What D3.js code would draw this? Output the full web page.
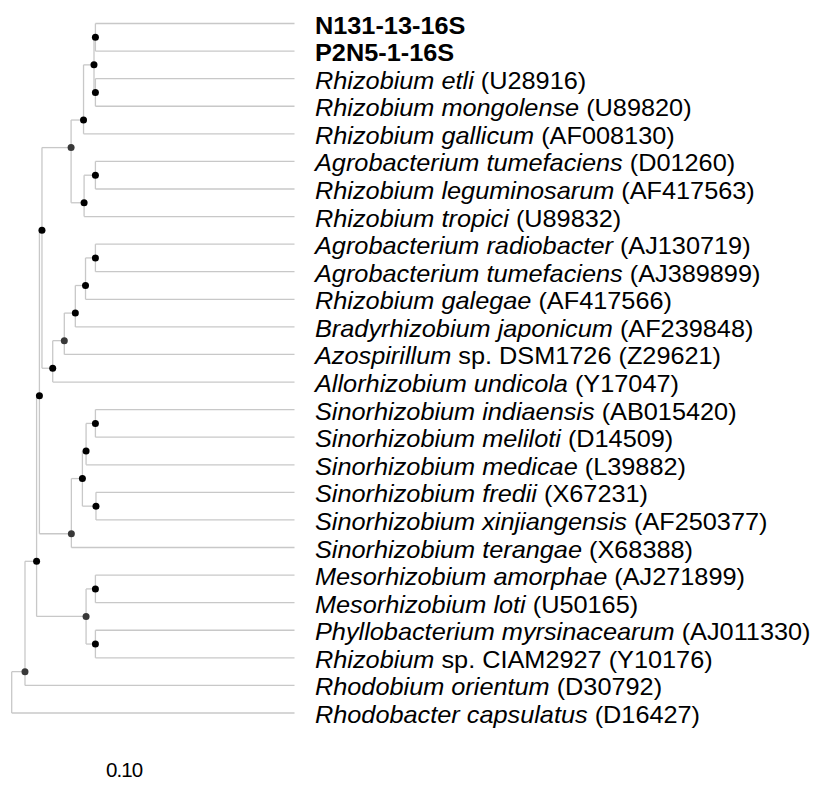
<!DOCTYPE html>
<html lang="en">
<head>
<meta charset="UTF-8">
<title>16S rRNA tree</title>
<script src="https://cdn.jsdelivr.net/npm/d3@7"></script>
<style>
body { margin: 0; background: #fff; }
text { font-family: "Liberation Sans", Arial, sans-serif; fill: #000; }
.branch { stroke: #c8c8c8; stroke-width: 1.3; fill: none; }
</style>
</head>
<body>
<div id="chart"></div>
<script>
// taxa, top to bottom: italic part, plain part
const taxonItalic = [
    "", "",
    "Rhizobium etli", "Rhizobium mongolense", "Rhizobium gallicum",
    "Agrobacterium tumefaciens", "Rhizobium leguminosarum", "Rhizobium tropici",
    "Agrobacterium radiobacter", "Agrobacterium tumefaciens", "Rhizobium galegae",
    "Bradyrhizobium japonicum", "Azospirillum", "Allorhizobium undicola",
    "Sinorhizobium indiaensis", "Sinorhizobium meliloti", "Sinorhizobium medicae",
    "Sinorhizobium fredii", "Sinorhizobium xinjiangensis", "Sinorhizobium terangae",
    "Mesorhizobium amorphae", "Mesorhizobium loti", "Phyllobacterium myrsinacearum",
    "Rhizobium", "Rhodobium orientum", "Rhodobacter capsulatus"
];
const taxonPlain = [
    "N131-13-16S", "P2N5-1-16S",
    "(U28916)", "(U89820)", "(AF008130)",
    "(D01260)", "(AF417563)", "(U89832)",
    "(AJ130719)", "(AJ389899)", "(AF417566)",
    "(AF239848)", "sp. DSM1726 (Z29621)", "(Y17047)",
    "(AB015420)", "(D14509)", "(L39882)",
    "(X67231)", "(AF250377)", "(X68388)",
    "(AJ271899)", "(U50165)", "(AJ011330)",
    "sp. CIAM2927 (Y10176)", "(D30792)", "(D16427)"
];
const boldTaxa = [0, 1];

// internal nodes: [id, depth, child 1, child 2, dark-grey dot]
// numbers are taxa (row index), strings are other nodes
const clades = [
    ["A", 29.6, 0, 1, 0],
    ["C", 29.6, 2, 3, 0],
    ["B", 29.1, "A", "C", 0],
    ["D", 25.4, "B", 4, 0],
    ["G", 29.6, 5, 6, 0],
    ["F", 25.6, "G", 7, 0],
    ["E", 21.0, "D", "F", 1],
    ["P", 29.6, 8, 9, 0],
    ["Q", 26.1, "P", 10, 0],
    ["S", 22.5, "Q", 11, 0],
    ["T", 18.6, "S", 12, 1],
    ["I", 14.5, "T", 13, 0],
    ["H", 10.7, "E", "I", 0],
    ["U", 29.6, 14, 15, 0],
    ["V", 26.3, "U", 16, 0],
    ["X", 29.8, 17, 18, 0],
    ["W", 25.0, "V", "X", 0],
    ["L", 21.1, "W", 19, 1],
    ["J", 9.8, "H", "L", 0],
    ["Y", 29.6, 20, 21, 0],
    ["Z", 29.6, 22, 23, 0],
    ["N", 26.3, "Y", "Z", 1],
    ["M", 8.8, "J", "N", 0],
    ["O", 4.7, "M", 24, 1],
    ["R", 0, "O", 25, 0]
];
const rootId = "R";
const tipDepth = 100;
const scaleLabel = "0.10";

const width = 816, height = 789;

const svg = d3.select("#chart").append("svg")
    .attr("width", width)
    .attr("height", height);

const x = d3.scaleLinear().domain([0, tipDepth]).range([11.7, 294.5]);
const y = d3.scaleLinear().domain([0, taxonPlain.length - 1]).range([23.5, 713]);

const byId = new Map(clades.map(c => [c[0], c]));
const parentDepth = new Map();
clades.forEach(c => {
    parentDepth.set(c[2], c[1]);
    parentDepth.set(c[3], c[1]);
});

// first / last row under a node
function rows(k) {
    if (typeof k === "number") return [k, k];
    const c = byId.get(k);
    return [rows(c[2])[0], rows(c[3])[1]];
}
// node sits in the gap between its two children
function rowOf(k) {
    if (typeof k === "number") return k;
    const c = byId.get(k);
    return (rows(c[2])[1] + rows(c[3])[0]) / 2;
}

const g = svg.append("g");

// horizontal branches of taxa
g.selectAll("line.tip")
    .data(d3.range(taxonPlain.length))
    .join("line")
    .attr("class", "branch tip")
    .attr("x1", i => x(parentDepth.get(i)))
    .attr("x2", x(tipDepth))
    .attr("y1", i => y(i))
    .attr("y2", i => y(i));

// horizontal branches of internal nodes
g.selectAll("line.stem")
    .data(clades.filter(c => c[0] !== rootId))
    .join("line")
    .attr("class", "branch stem")
    .attr("x1", c => x(parentDepth.get(c[0])))
    .attr("x2", c => x(c[1]))
    .attr("y1", c => y(rowOf(c[0])))
    .attr("y2", c => y(rowOf(c[0])));

// vertical connectors
g.selectAll("line.join")
    .data(clades)
    .join("line")
    .attr("class", "branch join")
    .attr("x1", c => x(c[1]))
    .attr("x2", c => x(c[1]))
    .attr("y1", c => y(rowOf(c[2])))
    .attr("y2", c => y(rowOf(c[3])));

// node dots
g.selectAll("circle")
    .data(clades.filter(c => c[0] !== rootId))
    .join("circle")
    .attr("cx", c => x(c[1]))
    .attr("cy", c => y(rowOf(c[0])))
    .attr("r", 3.5)
    .attr("fill", c => c[4] ? "#383838" : "#000");

// taxon labels
const labels = g.selectAll("text.taxon")
    .data(d3.range(taxonPlain.length))
    .join("text")
    .attr("class", "taxon")
    .attr("transform", i => `translate(315,${y(i) + 10}) scale(1.10,1)`)
    .style("font-size", "23px")
    .style("font-weight", i => boldTaxa.includes(i) ? "bold" : null);

labels.append("tspan")
    .style("font-style", "italic")
    .text(i => taxonItalic[i]);
labels.append("tspan")
    .text(i => (taxonItalic[i] ? " " : "") + taxonPlain[i]);

svg.append("text")
    .attr("x", 106)
    .attr("y", 777)
    .style("font-size", "20.5px")
    .style("letter-spacing", "-0.9px")
    .text(scaleLabel);
</script>
</body>
</html>
